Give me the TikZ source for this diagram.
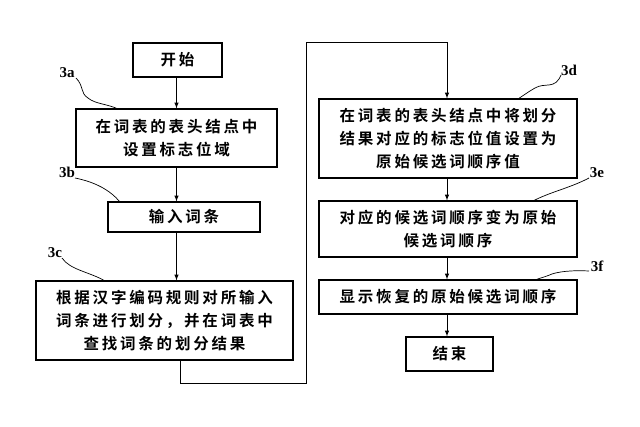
\documentclass[tikz,border=0pt]{standalone}
\usepackage{fontspec}
\setmainfont{Noto Sans CJK SC}[BoldFont={Noto Sans CJK SC Bold},LetterSpace=18]
\setsansfont{Liberation Serif}
\begin{document}
\begin{tikzpicture}[x=1pt,y=-1pt,
 box/.style={draw,line width=1.2pt,align=center,font=\fontsize{15.5}{23}\selectfont\bfseries,inner sep=0pt},
 arr/.style={line width=1pt,-latex},
 lab/.style={font=\fontsize{15}{15}\sffamily\bfseries,inner sep=1pt},
 lead/.style={line width=0.7pt}]
\useasboundingbox (0,0) rectangle (640,426);
\node[box,minimum width=89,minimum height=34] (s) at (177.5,60) {开始};
\node[box,minimum width=201,minimum height=58] (a) at (176.5,138) {在词表的表头结点中\\设置标志位域};
\node[box,minimum width=152,minimum height=30] (b) at (184,217) {输入词条};
\node[box,minimum width=257,minimum height=79] (c) at (164.5,320.5) {根据汉字编码规则对所输入\\词条进行划分，并在词表中\\查找词条的划分结果};
\node[box,minimum width=258,minimum height=79] (d) at (448,138.5) {在词表的表头结点中将划分\\结果对应的标志位值设置为\\原始候选词顺序值};
\node[box,minimum width=258,minimum height=56] (e) at (448,229) {对应的候选词顺序变为原始\\候选词顺序};
\node[box,minimum width=258,minimum height=34] (f) at (448,297) {显示恢复的原始候选词顺序};
\node[box,minimum width=87,minimum height=34] (g) at (449.5,354) {结束};
\draw[arr] (s.south-|a.north) -- (a.north);
\draw[arr] (a.south) -- (a.south|-b.north);
\draw[arr] (a.south|-b.south) -- (a.south|-c.north);
\coordinate (p1) at (180,383);
\coordinate (p2) at (306,383);
\coordinate (p3) at (306,42);
\coordinate (p4) at (447,42);
\draw (p1|-c.south) -- (p1) -- (p2) -- (p3) -- (p4);
\draw[arr] (p4) -- (p4|-d.north);
\draw[arr] (p4|-d.south) -- (p4|-e.north);
\draw[arr] (p4|-e.south) -- (p4|-f.north);
\draw[arr] (p4|-f.south) -- (p4|-g.north);
\node[lab] (la) at (67,73) {3a};
\node[lab] (lb) at (67,172) {3b};
\node[lab] (lc) at (55,253) {3c};
\node[lab] (ld) at (569,70) {3d};
\node[lab] (le) at (597,173) {3e};
\node[lab] (lf) at (597,266) {3f};
\draw[lead] (76,78) .. controls (84,86) and (80,93) .. (88,98) .. controls (95,104) and (108,104) .. (118,109);
\draw[lead] (75,178) .. controls (95,182) and (110,190) .. (120,202);
\draw[lead] (62,258) .. controls (70,270) and (90,272) .. (105,281);
\draw[lead] (561,75) .. controls (555,90) and (545,82) .. (535,88) .. controls (528,92) and (524,95) .. (518,99);
\draw[lead] (589,178) .. controls (570,188) and (550,192) .. (533,201);
\draw[lead] (589,271) .. controls (570,270) and (558,272) .. (552,274) .. controls (545,277) and (540,278) .. (535,280);
\end{tikzpicture}
\end{document}
